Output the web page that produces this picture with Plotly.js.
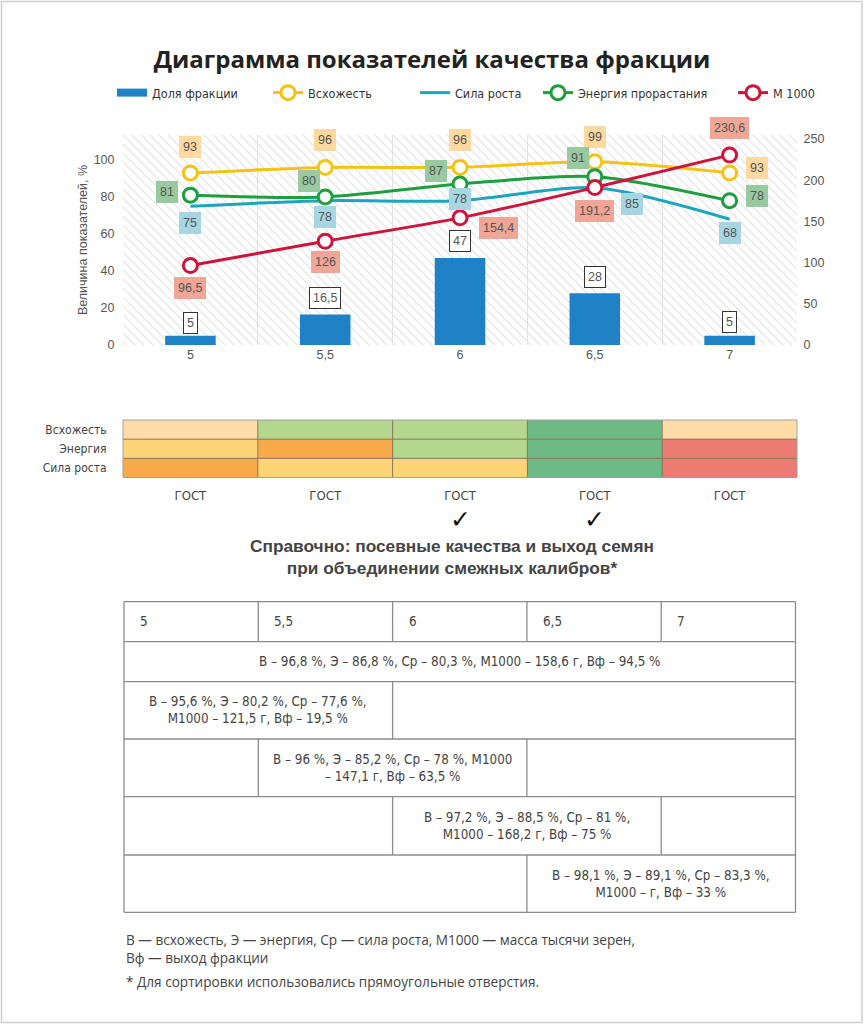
<!DOCTYPE html>
<html>
<head>
<meta charset="utf-8">
<script src="https://cdn.plot.ly/plotly-3.0.1.min.js"></script>
<style>
  html, body { margin: 0; padding: 0; background: #fff; overflow: hidden; }
  #chart { width: 864px; height: 1024px; }
</style>
</head>
<body>
<div id="chart"></div>
<script>
// ---------------- DATA ----------------
const categories = ['5', '5,5', '6', '6,5', '7'];
const fractionShare = [5, 16.5, 47, 28, 5];          // Доля фракции, %
const germination = [93, 96, 96, 99, 93];            // Всхожесть, %
const growthForce = [75, 78, 78, 85, 68];            // Сила роста, %
const germEnergy = [81, 80, 87, 91, 78];             // Энергия прорастания, %
const mass1000 = [96.5, 126, 154.4, 191.2, 230.6];   // М 1000, г
const leftTicks = [0, 20, 40, 60, 80, 100];
const rightTicks = [0, 50, 100, 150, 200, 250];

const heatRows = ['Всхожесть', 'Энергия', 'Сила роста'];
// grade codes: 0 red, 1 orange, 2 yellow, 3 peach, 4 light green, 5 green
const gradeGermination = [3, 4, 4, 5, 3];
const gradeEnergy = [2, 1, 4, 5, 0];
const gradeGrowth = [1, 2, 2, 5, 0];
const gostLabels = ['ГОСТ', 'ГОСТ', 'ГОСТ', 'ГОСТ', 'ГОСТ'];
const gostChecked = [false, false, true, true, false];

const comboStart = [0, 0, 1, 2, 3];
const comboEnd = [4, 1, 2, 3, 4];
const comboText = [
  'В – 96,8 %, Э – 86,8 %, Ср – 80,3 %, М1000 – 158,6 г, Вф – 94,5 %',
  'В – 95,6 %, Э – 80,2 %, Ср – 77,6 %,<br>М1000 – 121,5 г, Вф – 19,5 %',
  'В – 96 %, Э – 85,2 %, Ср – 78 %, М1000<br>– 147,1 г, Вф – 63,5 %',
  'В – 97,2 %, Э – 88,5 %, Ср – 81 %,<br>М1000 – 168,2 г, Вф – 75 %',
  'В – 98,1 %, Э – 89,1 %, Ср – 83,3 %,<br>М1000 – г, Вф – 33 %'
];

// ---------------- STYLE / LAYOUT HELPERS ----------------
const W = 864, H = 1024;
const px = x => x / W;
const py = y => 1 - y / H;
const NARROW = "'Liberation Sans Narrow', 'DejaVu Sans Condensed', 'Arial Narrow', sans-serif";
const ARIAL = "'Liberation Sans', Arial, sans-serif";
const OPEN = "'Open Sans', sans-serif";

const C = {
  bar: '#1f82c6', yellow: '#f5c313', teal: '#1aa6bf', green: '#1e9e3e', red: '#d1133c',
  yellowBg: '#fcd9a0', tealBg: '#a7d5e1', greenBg: '#98c9a0', redBg: '#f0a696'
};
const fmt = v => String(v).replace('.', ',');

const xDomain = [px(123), px(797)];
const mainY = [py(345), py(135)];
const heatY = [py(477.5), py(420)];

// hatch background
const hatchSvg = "<svg xmlns='http://www.w3.org/2000/svg' width='674' height='210'>" +
  "<defs><pattern id='h' width='9' height='9' patternUnits='userSpaceOnUse'>" +
  "<path d='M0,0L9,9M-1,8L1,10M8,-1L10,1' stroke='#e3e3e3' stroke-width='1.2'/></pattern></defs>" +
  "<rect width='674' height='210' fill='url(#h)'/></svg>";
const hatchSrc = 'data:image/svg+xml;charset=utf-8,' + encodeURIComponent(hatchSvg);

// ---------------- TRACES ----------------
const lineTrace = (name, y, color, axis, markers, legendId) => ({
  type: 'scatter', name, x: categories, y, yaxis: axis, xaxis: 'x', legend: legendId,
  mode: markers ? 'lines+markers' : 'lines',
  line: { color, width: 3, shape: 'spline', smoothing: 0.8 },
  marker: { symbol: 'circle', size: 14, color: '#fff', line: { color, width: 3 } },
  hoverinfo: 'skip'
});

const traces = [
  { type: 'bar', name: 'Доля фракции', x: categories, y: fractionShare, xaxis: 'x', yaxis: 'y',
    width: 0.375, marker: { color: C.bar }, showlegend: false, hoverinfo: 'skip' },
  { type: 'scatter', name: 'Доля фракции', x: [null], y: [null], xaxis: 'x', yaxis: 'y', legend: 'legend',
    mode: 'lines', line: { color: C.bar, width: 8 }, hoverinfo: 'skip' },
  lineTrace('Всхожесть', germination, C.yellow, 'y', true, 'legend2'),
  lineTrace('Сила роста', growthForce, C.teal, 'y', false, 'legend3'),
  lineTrace('Энергия прорастания', germEnergy, C.green, 'y', true, 'legend4'),
  lineTrace('М 1000', mass1000, C.red, 'y2', true, 'legend5'),
  { type: 'heatmap', x: categories, y: heatRows, xaxis: 'x2', yaxis: 'y3',
    z: [gradeGermination, gradeEnergy, gradeGrowth], zmin: 0, zmax: 5, showscale: false,
    hoverinfo: 'skip',
    colorscale: [
      [0, '#ec7b71'], [0.1, '#ec7b71'], [0.1, '#f6aa4a'], [0.3, '#f6aa4a'],
      [0.3, '#fdd475'], [0.5, '#fdd475'], [0.5, '#fddca7'], [0.7, '#fddca7'],
      [0.7, '#b3d78d'], [0.9, '#b3d78d'], [0.9, '#6dba84'], [1, '#6dba84']
    ] }
];

// ---------------- ANNOTATIONS ----------------
const annotations = [];
const labelFont = { family: ARIAL, size: 12.5, color: '#555' };
function addLabels(values, axis, shifts, bg, border) {
  values.forEach((v, i) => {
    annotations.push({
      x: i, y: v, xref: 'x', yref: axis, text: fmt(v), showarrow: false,
      xanchor: 'center', yanchor: 'middle',
      xshift: shifts[i][0], yshift: shifts[i][1], bgcolor: bg, bordercolor: border,
      borderwidth: 1, borderpad: 3, font: labelFont
    });
  });
}
addLabels(germination, 'y', [[0, 26], [0, 27], [0, 27], [0, 25], [27, 5]], C.yellowBg, C.yellowBg);
addLabels(germEnergy, 'y', [[-23, 3], [-16, 16], [-24, 13], [-17, 19], [27, 5]], C.greenBg, C.greenBg);
addLabels(growthForce, 'y', [[0, -17], [0, -16], [0, 2], [37, -16], [0, -14]], C.tealBg, C.tealBg);
addLabels(mass1000, 'y2', [[0, -22], [0, -21], [38, -10], [0, -23], [0, 27]], C.redBg, C.redBg);
addLabels(fractionShare, 'y', [[0, 13], [0, 16], [0, 17], [0, 16], [0, 14]], '#fff', '#333');

// check marks
gostChecked.forEach((ok, i) => {
  if (ok) annotations.push({
    x: i, xref: 'x2', y: py(519), yref: 'paper', text: '✓', showarrow: false,
    xanchor: 'center', yanchor: 'middle',
    font: { family: "'DejaVu Sans', sans-serif", size: 25, color: '#111' }
  });
});

// reference heading
annotations.push({
  x: px(452), y: py(557), xref: 'paper', yref: 'paper', showarrow: false,
  xanchor: 'center', yanchor: 'middle',
  text: '<b>Справочно: посевные качества и выход семян<br>при объединении смежных калибров*</b>',
  font: { family: ARIAL, size: 17.3, color: '#444' }
});

// table
const tX = [124, 258.3, 392.6, 526.9, 661.2, 795.5];
const tY = [601.7, 641.7, 681.7, 739, 796.7, 855, 912.3];
const shapes = [];
const tableLine = { color: '#8c8c8c', width: 1.3 };
const seg = (x0, y0, x1, y1, line) => ({ type: 'line', xref: 'paper', yref: 'paper',
  x0: px(x0), y0: py(y0), x1: px(x1), y1: py(y1), line });
tY.forEach(y => shapes.push(seg(tX[0], y, tX[5], y, tableLine)));
tX.forEach(x => shapes.push(seg(x, tY[0], x, tY[1], tableLine)));
const tableFont = { family: NARROW, size: 13.3, color: '#444' };
categories.forEach((c, i) => annotations.push({
  x: px(tX[i] + 14), y: py((tY[0] + tY[1]) / 2), xref: 'paper', yref: 'paper',
  xanchor: 'left', yanchor: 'middle', text: c, showarrow: false, font: tableFont
}));
comboText.forEach((t, r) => {
  const y0 = tY[r + 1], y1 = tY[r + 2];
  const bounds = new Set([0, 5, comboStart[r], comboEnd[r] + 1]);
  bounds.forEach(b => shapes.push(seg(tX[b], y0, tX[b], y1, tableLine)));
  annotations.push({
    x: px((tX[comboStart[r]] + tX[comboEnd[r] + 1]) / 2), y: py((y0 + y1) / 2),
    xref: 'paper', yref: 'paper', xanchor: 'center', yanchor: 'middle',
    text: t, showarrow: false, font: tableFont
  });
});

// footnotes
[
  ['В — всхожесть, Э — энергия, Ср — сила роста, М1000 — масса тысячи зерен,', 939],
  ['Вф — выход фракции', 957],
  ['* Для сортировки использовались прямоугольные отверстия.', 981]
].forEach(([t, y]) => annotations.push({
  x: px(124), y: py(y), xref: 'paper', yref: 'paper', xanchor: 'left', yanchor: 'middle', text: t,
  showarrow: false, font: { family: OPEN, size: 13.6, color: '#444' }
}));

// heatmap grid lines
const heatLine = { color: '#86785c', width: 1 };
[0.5, 1.5, 2.5, 3.5].forEach(x => shapes.push({ type: 'line', xref: 'x2', yref: 'y3 domain',
  x0: x, x1: x, y0: 0, y1: 1, line: heatLine }));
[0.5, 1.5].forEach(y => shapes.push({ type: 'line', xref: 'x2 domain', yref: 'y3',
  x0: 0, x1: 1, y0: y, y1: y, line: heatLine }));
shapes.push({ type: 'rect', xref: 'x2 domain', yref: 'y3 domain', x0: 0, x1: 1, y0: 0, y1: 1,
  line: { color: '#a0a0a0', width: 1 } });

// page frame
shapes.push({ type: 'rect', xref: 'paper', yref: 'paper', x0: px(1.5), x1: px(862), y0: py(1022.5), y1: py(1.5),
  line: { color: '#cfcfcf', width: 1.5 } });

const tickFont = { family: ARIAL, size: 12.5, color: '#555' };
const legendBase = (x) => ({
  orientation: 'h', x: px(x), xanchor: 'left', y: py(93), yanchor: 'middle',
  font: { family: NARROW, size: 12.5, color: '#333' }, bgcolor: 'rgba(0,0,0,0)', itemwidth: 30
});
const layout = {
  width: W, height: H, autosize: false,
  margin: { l: 0, r: 0, t: 0, b: 0, pad: 0 },
  paper_bgcolor: '#fff', plot_bgcolor: 'rgba(0,0,0,0)',
  barmode: 'overlay',
  title: {
    text: '<b>Диаграмма показателей качества фракции</b>', x: 0.5, xanchor: 'center',
    y: py(60), yanchor: 'middle', font: { family: OPEN, size: 24, color: '#222' }
  },
  showlegend: true,
  legend: legendBase(112),
  legend2: legendBase(268),
  legend3: legendBase(415),
  legend4: legendBase(538),
  legend5: legendBase(733),
  xaxis: {
    type: 'category', domain: xDomain, anchor: 'y', range: [-0.5, 4.5], tickson: 'boundaries',
    showgrid: true, gridcolor: '#e2e2e2', gridwidth: 1, zeroline: false, showline: false,
    ticks: 'outside', ticklen: 14, tickcolor: 'rgba(0,0,0,0)', tickfont: tickFont, fixedrange: true
  },
  yaxis: {
    domain: mainY, anchor: 'x', range: [0, 113.5], tickvals: leftTicks, showgrid: false,
    zeroline: false, showline: false, ticks: 'outside', ticklen: 5, tickcolor: 'rgba(0,0,0,0)',
    tickfont: tickFont,
    title: { text: 'Величина показателей, %', font: { family: ARIAL, size: 12.5, color: '#555' }, standoff: 3 }
  },
  yaxis2: {
    overlaying: 'y', side: 'right', anchor: 'x', range: [0, 255], tickvals: rightTicks,
    showgrid: false, zeroline: false, showline: false, ticks: 'outside', ticklen: 3,
    tickcolor: 'rgba(0,0,0,0)', tickfont: tickFont
  },
  xaxis2: {
    type: 'category', domain: xDomain, anchor: 'y3', range: [-0.5, 4.5],
    tickvals: categories, ticktext: gostLabels, showgrid: false, zeroline: false, showline: false,
    ticks: 'outside', ticklen: 6, tickcolor: 'rgba(0,0,0,0)',
    tickfont: { family: NARROW, size: 13, color: '#444' }
  },
  yaxis3: {
    type: 'category', domain: heatY, anchor: 'x2', autorange: 'reversed', showgrid: false,
    zeroline: false, showline: false, ticks: 'outside', ticklen: 13, tickcolor: 'rgba(0,0,0,0)',
    tickfont: { family: NARROW, size: 12, color: '#444' }
  },
  images: [{
    source: hatchSrc, xref: 'paper', yref: 'paper', x: px(123), y: py(135),
    sizex: px(674), sizey: 210 / H, sizing: 'stretch', xanchor: 'left', yanchor: 'top', layer: 'below'
  }],
  annotations, shapes
};

Plotly.newPlot('chart', traces, layout, { staticPlot: true, displayModeBar: false });
</script>
</body>
</html>
